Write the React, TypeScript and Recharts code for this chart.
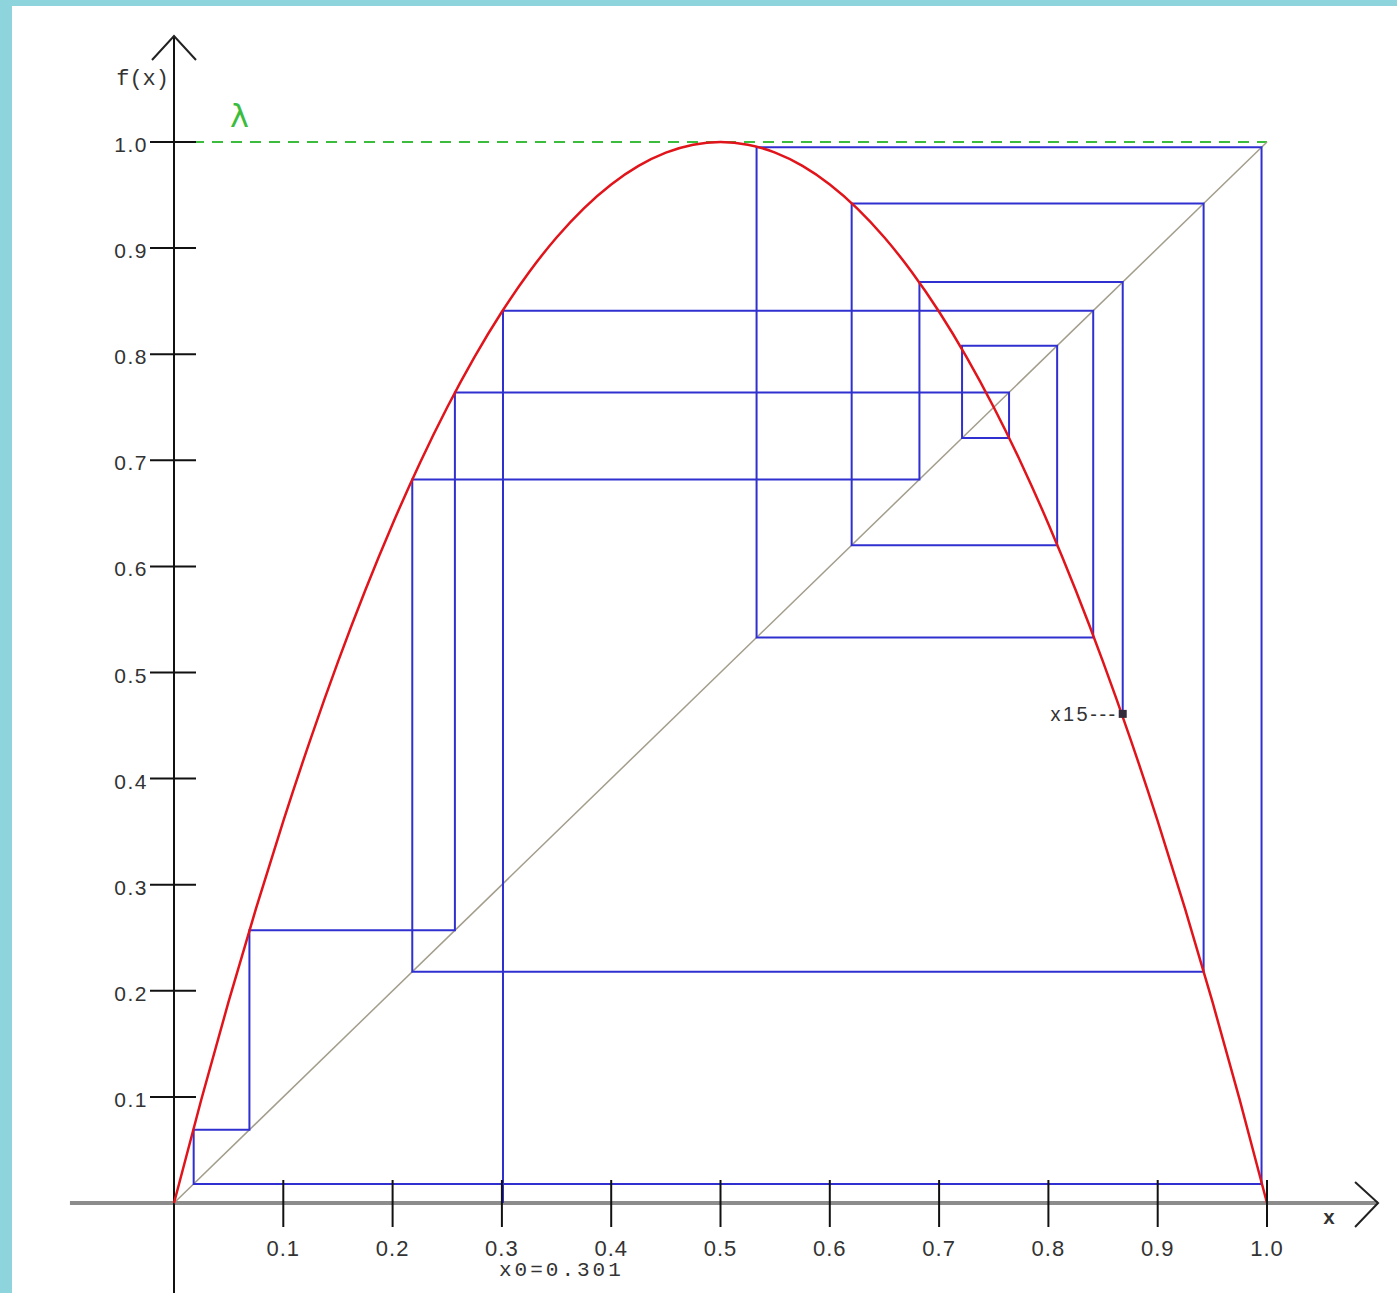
import { LineChart, Line, XAxis, YAxis, ReferenceLine, ReferenceDot } from "recharts";

// logistic map, lambda = 4
const CURVE_X = [
  0, 0.025, 0.05, 0.075, 0.1, 0.125, 0.15, 0.175, 0.2, 0.225, 0.25, 0.275, 0.3, 0.325,
  0.35, 0.375, 0.4, 0.425, 0.45, 0.475, 0.5, 0.525, 0.55, 0.575, 0.6, 0.625, 0.65, 0.675,
  0.7, 0.725, 0.75, 0.775, 0.8, 0.825, 0.85, 0.875, 0.9, 0.925, 0.95, 0.975, 1,
];
const CURVE_Y = [
  0, 0.0975, 0.19, 0.2775, 0.36, 0.4375, 0.51, 0.5775, 0.64, 0.6975, 0.75, 0.7975, 0.84,
  0.8775, 0.91, 0.9375, 0.96, 0.9775, 0.99, 0.9975, 1, 0.9975, 0.99, 0.9775, 0.96, 0.9375,
  0.91, 0.8775, 0.84, 0.7975, 0.75, 0.6975, 0.64, 0.5775, 0.51, 0.4375, 0.36, 0.2775, 0.19,
  0.0975, 0,
];
// iterates x0 .. x15
const ORBIT = [
  0.301, 0.841, 0.533, 0.995, 0.018, 0.069, 0.257, 0.764, 0.721, 0.808, 0.62, 0.942, 0.218,
  0.682, 0.868, 0.461,
];
const X_TICKS = [0.1, 0.2, 0.3, 0.4, 0.5, 0.6, 0.7, 0.8, 0.9, 1.0];
const Y_TICKS = [0.1, 0.2, 0.3, 0.4, 0.5, 0.6, 0.7, 0.8, 0.9, 1.0];
const LAMBDA_LEVEL = 1.0;

const W = 1397;
const H = 1293;
const BLUE = "#3030d0";
const RED = "#e0141a";
const GREEN = "#3cbc3c";
const INK = "#333";
const LABEL_FONT = "'Liberation Sans', Arial, sans-serif";
const MONO_FONT = "'Liberation Mono', 'DejaVu Sans Mono', monospace";

const curve = CURVE_X.map((x, i) => ({ x, y: CURVE_Y[i] }));

const cobweb: { x: number; y: number }[] = [{ x: ORBIT[0], y: 0 }];
for (let i = 0; i < ORBIT.length - 1; i++) {
  cobweb.push({ x: ORBIT[i], y: ORBIT[i + 1] });
  if (i + 1 < ORBIT.length - 1) cobweb.push({ x: ORBIT[i + 1], y: ORBIT[i + 1] });
}
const last = cobweb[cobweb.length - 1];

function XTick({ x, y, payload }: any) {
  return (
    <g>
      <line x1={x} x2={x} y1={y - 23} y2={y + 24} stroke="#111" strokeWidth={2} />
      <text
        x={x}
        y={y + 53}
        textAnchor="middle"
        fontSize={22}
        fontFamily={LABEL_FONT}
        fill={INK}
        letterSpacing={1}
      >
        {Number(payload.value).toFixed(1)}
      </text>
    </g>
  );
}

function YTick({ x, y, payload }: any) {
  return (
    <g>
      <line x1={x - 24} x2={x + 22} y1={y} y2={y} stroke="#111" strokeWidth={2} />
      <text
        x={x - 26}
        y={y + 10}
        textAnchor="end"
        fontSize={21}
        fontFamily={LABEL_FONT}
        fill={INK}
        letterSpacing={1.5}
      >
        {Number(payload.value).toFixed(1)}
      </text>
    </g>
  );
}

export default function App() {
  return (
    <div style={{ position: "relative", width: W, height: H, background: "#8ed4dc" }}>
      <style>{`body{margin:0}`}</style>
      <div
        style={{ position: "absolute", left: 12, top: 6, right: 0, bottom: 0, background: "#fff" }}
      />
      <div style={{ position: "absolute", left: 0, top: 0 }}>
        <LineChart
          width={W}
          height={H}
          margin={{ top: 142, right: 130, bottom: 60, left: 114 }}
        >
          <XAxis
            type="number"
            dataKey="x"
            domain={[0, 1]}
            ticks={X_TICKS}
            interval={0}
            height={30}
            axisLine={false}
            tickLine={false}
            tickSize={0}
            tickMargin={0}
            tick={(p: any) => <XTick {...p} />}
          />
          <YAxis
            type="number"
            dataKey="y"
            domain={[0, 1]}
            ticks={Y_TICKS}
            interval={0}
            width={60}
            axisLine={false}
            tickLine={false}
            tickSize={0}
            tickMargin={0}
            tick={(p: any) => <YTick {...p} />}
          />

          {/* axes */}
          <ReferenceLine
            segment={[{ x: -0.0952, y: 0 }, { x: 1.1016, y: 0 }]}
            stroke="#8c8c8c"
            strokeWidth={4}
            ifOverflow="visible"
          />
          <ReferenceLine
            segment={[{ x: 0, y: -0.0848 }, { x: 0, y: 1.0999 }]}
            stroke="#111"
            strokeWidth={2}
            ifOverflow="visible"
          />
          <ReferenceDot
            x={1.1016}
            y={0}
            ifOverflow="visible"
            shape={(p: any) => (
              <g>
                <polyline
                  points={`${p.cx - 23},${p.cy - 21} ${p.cx},${p.cy} ${p.cx - 23},${p.cy + 24}`}
                  fill="none"
                  stroke="#222"
                  strokeWidth={2}
                />
                <text
                  x={p.cx - 49}
                  y={p.cy + 21}
                  textAnchor="middle"
                  fontSize={20}
                  fontFamily={MONO_FONT}
                  fontWeight="bold"
                  fill={INK}
                >
                  x
                </text>
              </g>
            )}
          />
          <ReferenceDot
            x={0}
            y={1.0999}
            ifOverflow="visible"
            shape={(p: any) => (
              <g>
                <polyline
                  points={`${p.cx - 22},${p.cy + 24} ${p.cx},${p.cy} ${p.cx + 22},${p.cy + 24}`}
                  fill="none"
                  stroke="#222"
                  strokeWidth={2}
                />
                <text
                  x={p.cx - 5}
                  y={p.cy + 49}
                  textAnchor="end"
                  fontSize={22}
                  fontFamily={MONO_FONT}
                  fill={INK}
                >
                  f(x)
                </text>
              </g>
            )}
          />

          {/* lambda level and diagonal */}
          <ReferenceLine
            segment={[{ x: 0, y: LAMBDA_LEVEL }, { x: 1, y: LAMBDA_LEVEL }]}
            stroke={GREEN}
            strokeWidth={2}
            strokeDasharray="11 8"
            ifOverflow="visible"
          />
          <ReferenceDot
            x={0.06}
            y={LAMBDA_LEVEL}
            ifOverflow="visible"
            shape={(p: any) => (
              <text
                x={p.cx}
                y={p.cy - 15}
                textAnchor="middle"
                fontSize={32}
                fontFamily="'DejaVu Sans', sans-serif"
                fill={GREEN}
              >
                λ
              </text>
            )}
          />
          <ReferenceLine
            segment={[{ x: 0, y: 0 }, { x: 1, y: 1 }]}
            stroke="#a39d8c"
            strokeWidth={1.5}
            ifOverflow="visible"
          />

          <Line
            data={cobweb}
            dataKey="y"
            type="linear"
            stroke={BLUE}
            strokeWidth={2}
            dot={false}
            activeDot={false}
            isAnimationActive={false}
          />
          <Line
            data={curve}
            dataKey="y"
            type="natural"
            stroke={RED}
            strokeWidth={2.5}
            dot={false}
            activeDot={false}
            isAnimationActive={false}
          />

          {/* labels on the orbit */}
          <ReferenceDot
            x={last.x}
            y={last.y}
            ifOverflow="visible"
            shape={(p: any) => (
              <g>
                <rect x={p.cx - 4} y={p.cy - 4} width={8} height={8} fill="#332a3a" />
                <text
                  x={p.cx - 5}
                  y={p.cy + 7}
                  textAnchor="end"
                  fontSize={20}
                  fontFamily={LABEL_FONT}
                  fill={INK}
                  letterSpacing={2.5}
                >
                  {`x${ORBIT.length - 1}---`}
                </text>
              </g>
            )}
          />
          <ReferenceDot
            x={ORBIT[0]}
            y={0}
            ifOverflow="visible"
            shape={(p: any) => (
              <text
                x={p.cx - 4}
                y={p.cy + 73}
                textAnchor="start"
                fontSize={21}
                fontFamily={MONO_FONT}
                fill={INK}
                letterSpacing={3}
              >
                {`x0=${ORBIT[0]}`}
              </text>
            )}
          />
        </LineChart>
      </div>
    </div>
  );
}
